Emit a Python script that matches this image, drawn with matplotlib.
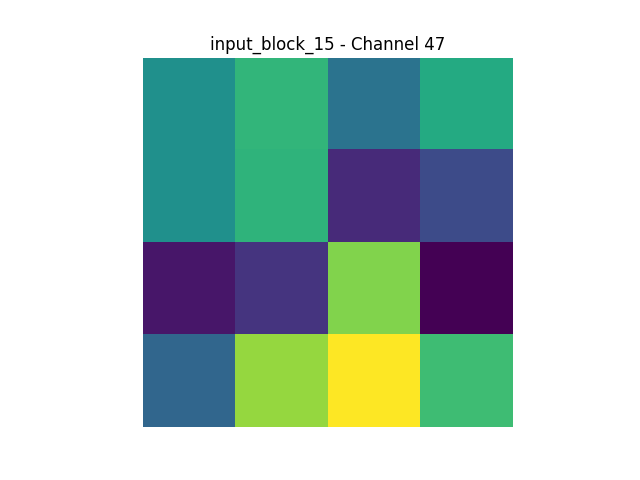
import numpy as np
import matplotlib
matplotlib.use("Agg")
import matplotlib.pyplot as plt

# activation values (normalised 0..1)
row0 = [0.50, 0.66, 0.38, 0.61]
row1 = [0.50, 0.65, 0.12, 0.23]
row2 = [0.06, 0.15, 0.81, 0.00]
row3 = [0.33, 0.84, 1.00, 0.69]

fmap = np.array([row0, row1, row2, row3])

fig = plt.figure(figsize=(6.4, 4.8), dpi=100)
plt.imshow(fmap, cmap="viridis")
plt.title("input_block_15 - Channel 47")
plt.axis("off")
plt.savefig("out.png")
